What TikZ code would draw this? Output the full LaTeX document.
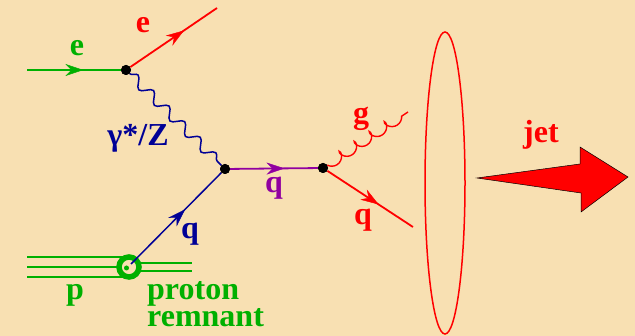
\documentclass[tikz,border=0pt]{standalone}
\usepackage{fontspec}
\setmainfont{Liberation Serif}
\usetikzlibrary{arrows.meta,decorations.pathmorphing,decorations.markings,shapes.geometric}
\definecolor{bgc}{RGB}{248,224,178}
\definecolor{grn}{RGB}{0,176,0}
\definecolor{rd}{RGB}{255,0,0}
\definecolor{nvy}{RGB}{0,0,150}
\definecolor{prp}{RGB}{145,0,160}
\begin{document}
\begin{tikzpicture}[x=1pt,y=-1pt,
  lbl/.style={font=\fontsize{32}{26}\selectfont\bfseries, inner sep=0pt},
  fline/.style={line width=1.8pt},
  midarrow/.style={postaction={decorate}, decoration={markings, mark=at position #1 with {\arrow[line width=0.4pt]{Stealth[length=18pt,width=12pt,inset=6pt]}}}},
  vdot/.style={circle, fill=black, minimum size=10pt, inner sep=0pt}
]
\fill[bgc] (0,0) rectangle (635,336);
\useasboundingbox (0,0) rectangle (635,336);
% vertices
\node[vdot] (v1) at (126,70) {};
\node[vdot] (v2) at (225,169) {};
\node[vdot] (v3) at (323,168) {};
\coordinate (ein) at (27,70);
\coordinate (eout) at (217,8);
\coordinate (gend) at (408,112);
\coordinate (qend) at (413,227);
\coordinate (pv) at (131,264);
% proton lines
\draw[grn, line width=1.6pt] (27,257) -- (125,257);
\draw[grn, line width=1.6pt] (27,267) -- (125,267);
\draw[grn, line width=1.6pt] (27,277) -- (125,277);
\draw[grn, line width=1.6pt] (130,263) -- (192,263);
\draw[grn, line width=1.6pt] (130,271) -- (192,271);
\node[circle, draw=grn, line width=5.5pt, fill=bgc, minimum size=20pt, inner sep=0pt] (pc) at (129,267) {};
\fill[grn] (126.5,268) circle (2.5pt);
% fermion lines
\draw[fline, grn, midarrow=0.6] (ein) -- (v1);
\draw[fline, rd, midarrow=0.62] (v1) -- (eout);
\draw[fline, nvy, midarrow=0.6, line width=1.5pt] (pv) -- (v2);
\draw[fline, prp, midarrow=0.62] (v2) -- (v3);
\draw[fline, rd, midarrow=0.6] (v3) -- (qend);
% photon
\draw[nvy, line width=1.5pt, decorate, decoration={snake, amplitude=5pt, segment length=22pt}] (v1) -- (v2);
% gluon
\draw[rd, line width=1.4pt, decorate, decoration={coil, amplitude=5pt, segment length=18pt, aspect=0.8, mirror}] (v3) -- (gend);
\node[vdot] at (v1) {};
\node[vdot] at (v2) {};
\node[vdot] at (v3) {};
% labels
\node[lbl, grn] (le) at (77,48) {e};
\node[lbl, rd] (le2) at (143,25) {e};
\node[lbl, nvy] (lg) at (138,138) {γ*/Z};
\node[lbl, prp] (lq1) at (274,188) {q};
\node[lbl, nvy] (lq2) at (190,234) {q};
\node[lbl, rd] (lgl) at (361,119) {g};
\node[lbl, rd] (lq3) at (363,220) {q};
\node[lbl, grn] (lp) at (75,295) {p};
\node[lbl, grn, anchor=base west] (lpr) at (147,300) {proton};
\node[lbl, grn, anchor=base west] (lrm) at (147,327) {remnant};
\node[lbl, rd] (ljet) at (541,135) {jet};
% ellipse
\node[ellipse, draw=rd, line width=1.5pt, minimum width=40pt, minimum height=302pt, inner sep=0pt] (ell) at (445,183) {};
% jet arrow
\draw[black, fill=rd, line width=0.5pt] (477,178) -- (580,164) -- (580,147) -- (628,177) -- (581,212) -- (581,193) -- cycle;
\end{tikzpicture}
\end{document}
